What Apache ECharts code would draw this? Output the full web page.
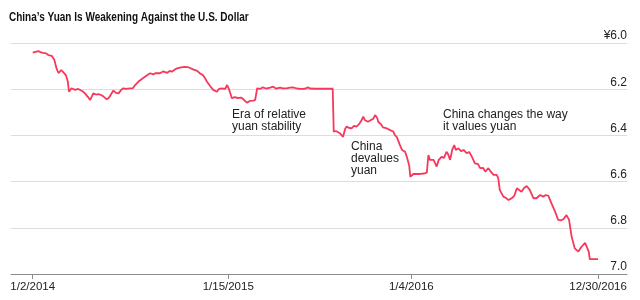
<!DOCTYPE html>
<head>
    <meta charset="utf-8">
    <title>ECharts</title>
</head>
<body style="margin:0">
    <div id="main" style="width:640px;height:300px"></div>
    <script src="https://cdn.jsdelivr.net/npm/echarts@6/dist/echarts.min.js"></script>
    <script type="text/javascript">
var myChart = echarts.init(document.getElementById('main'));

// CNY per USD
var dates = [
    '2014-01-02','2014-01-06','2014-01-13','2014-01-18','2014-01-22','2014-01-28','2014-02-01','2014-02-08',
    '2014-02-13','2014-02-17','2014-02-21','2014-02-26','2014-03-02','2014-03-07','2014-03-11','2014-03-13',
    '2014-03-18','2014-03-25','2014-03-31','2014-04-03','2014-04-09','2014-04-13','2014-04-19','2014-04-23',
    '2014-04-29','2014-05-04','2014-05-09','2014-05-14','2014-05-19','2014-05-25','2014-05-29','2014-06-01',
    '2014-06-07','2014-06-12','2014-06-17','2014-06-22','2014-06-26','2014-07-01','2014-07-09','2014-07-15',
    '2014-07-19','2014-07-25','2014-07-28','2014-08-03','2014-08-09','2014-08-17','2014-08-23','2014-08-28',
    '2014-09-05','2014-09-11','2014-09-19','2014-09-24','2014-09-28','2014-10-04','2014-10-08','2014-10-16',
    '2014-10-23','2014-10-31','2014-11-08','2014-11-16','2014-11-21','2014-11-27','2014-12-01','2014-12-05',
    '2014-12-11','2014-12-17','2014-12-20','2014-12-24','2014-12-28','2015-01-03','2015-01-09','2015-01-13',
    '2015-01-17','2015-01-22','2015-01-28','2015-02-03','2015-02-09','2015-02-15','2015-02-20','2015-02-26',
    '2015-03-04','2015-03-08','2015-03-12','2015-03-17','2015-03-23','2015-03-29','2015-04-06','2015-04-12',
    '2015-04-17','2015-04-25','2015-05-01','2015-05-09','2015-05-15','2015-05-20','2015-05-28','2015-06-03',
    '2015-06-09','2015-06-14','2015-06-18','2015-06-22','2015-07-02','2015-07-11','2015-07-21','2015-08-05',
    '2015-08-07','2015-08-11','2015-08-19','2015-08-25','2015-08-29','2015-09-01','2015-09-06','2015-09-11',
    '2015-09-15','2015-09-20','2015-09-25','2015-09-29','2015-10-03','2015-10-06','2015-10-12','2015-10-18',
    '2015-10-22','2015-10-26','2015-10-30','2015-11-01','2015-11-06','2015-11-10','2015-11-16','2015-11-24',
    '2015-11-30','2015-12-03','2015-12-07','2015-12-13','2015-12-17','2015-12-23','2015-12-27','2015-12-31',
    '2016-01-02','2016-01-08','2016-01-15','2016-01-21','2016-01-29','2016-02-03','2016-02-06','2016-02-09',
    '2016-02-16','2016-02-22','2016-02-26','2016-03-03','2016-03-07','2016-03-12','2016-03-15','2016-03-19',
    '2016-03-23','2016-03-27','2016-03-30','2016-04-04','2016-04-09','2016-04-14','2016-04-20','2016-04-25',
    '2016-04-30','2016-05-06','2016-05-12','2016-05-16','2016-05-22','2016-05-26','2016-06-01','2016-06-06',
    '2016-06-11','2016-06-17','2016-06-20','2016-06-23','2016-06-30','2016-07-05','2016-07-10','2016-07-16',
    '2016-07-21','2016-07-26','2016-07-29','2016-08-04','2016-08-09','2016-08-14','2016-08-20','2016-08-27',
    '2016-09-02','2016-09-09','2016-09-15','2016-09-20','2016-09-25','2016-10-01','2016-10-08','2016-10-14',
    '2016-10-19','2016-10-24','2016-10-30','2016-11-04','2016-11-09','2016-11-15','2016-11-22','2016-11-28',
    '2016-12-05','2016-12-09','2016-12-12','2016-12-14','2016-12-21','2016-12-24','2016-12-30'
];
var yuan = [
    6.042,6.039,6.035,6.041,6.043,6.045,6.052,6.056,
    6.074,6.110,6.131,6.117,6.126,6.139,6.168,6.211,
    6.196,6.203,6.199,6.206,6.210,6.218,6.234,6.247,
    6.218,6.223,6.221,6.225,6.232,6.244,6.238,6.232,
    6.206,6.216,6.218,6.203,6.196,6.199,6.196,6.195,
    6.182,6.168,6.160,6.153,6.143,6.131,6.136,6.130,
    6.131,6.123,6.129,6.121,6.124,6.115,6.110,6.106,
    6.103,6.106,6.114,6.121,6.131,6.139,6.152,6.168,
    6.186,6.203,6.199,6.211,6.199,6.196,6.199,6.182,
    6.203,6.239,6.234,6.239,6.236,6.247,6.258,6.251,
    6.249,6.247,6.196,6.199,6.192,6.197,6.193,6.189,
    6.197,6.193,6.196,6.195,6.193,6.192,6.197,6.199,
    6.199,6.197,6.192,6.197,6.198,6.198,6.198,6.198,
    6.384,6.381,6.391,6.406,6.372,6.362,6.368,6.369,
    6.359,6.362,6.351,6.338,6.319,6.333,6.341,6.333,
    6.329,6.312,6.325,6.341,6.351,6.365,6.368,6.377,
    6.383,6.398,6.407,6.442,6.463,6.471,6.498,6.532,
    6.579,6.567,6.567,6.567,6.565,6.561,6.485,6.506,
    6.506,6.535,6.506,6.492,6.498,6.471,6.481,6.506,
    6.463,6.442,6.463,6.456,6.468,6.463,6.477,6.472,
    6.492,6.521,6.524,6.542,6.541,6.557,6.542,6.558,
    6.571,6.571,6.584,6.636,6.665,6.671,6.680,6.672,
    6.662,6.629,6.622,6.644,6.628,6.619,6.636,6.672,
    6.672,6.658,6.665,6.658,6.662,6.694,6.730,6.766,
    6.768,6.763,6.745,6.766,6.839,6.889,6.903,6.882,
    6.865,6.887,6.903,6.936,6.936,6.942,6.936
];
var tickDates = ['2014-01-02', '2015-01-15', '2016-01-04', '2016-12-30'];

function toTime(s) {
    var p = s.split('-');
    return new Date(+p[0], +p[1] - 1, +p[2]).getTime();
}

var font = "'Liberation Sans', Arial, sans-serif";
var textColor = '#222';

option = {
    animation: false,
    backgroundColor: '#fff',
    grid: {
        left: 11,
        right: 13,
        top: 43,
        bottom: 26
    },
    xAxis: {
        type: 'value',
        min: toTime('2013-11-21'),
        max: toTime('2017-02-24'),
        axisLine: { show: true, lineStyle: { color: '#8c8c8c', width: 1 } },
        axisTick: {
            show: true,
            length: 5,
            customValues: tickDates.map(toTime),
            lineStyle: { color: '#8c8c8c' }
        },
        axisLabel: {
            customValues: tickDates.map(toTime),
            margin: 7,
            fontFamily: font,
            fontSize: 11.5,
            color: textColor,
            formatter: function (v) {
                var d = new Date(v);
                return (d.getMonth() + 1) + '/' + d.getDate() + '/' + d.getFullYear();
            }
        },
        splitLine: { show: false }
    },
    yAxis: {
        type: 'value',
        position: 'right',
        inverse: true,
        min: 6.0,
        max: 7.0,
        interval: 0.2,
        axisLine: { show: false },
        axisTick: { show: false },
        axisLabel: {
            inside: true,
            margin: 0,
            verticalAlign: 'bottom',
            padding: [0, 0, 1, 0],
            fontFamily: font,
            fontSize: 12,
            color: textColor,
            formatter: function (v) {
                return v === 6 ? '\u00a56.0' : v.toFixed(1);
            }
        },
        splitLine: { lineStyle: { color: '#dddddd', width: 1 } }
    },
    graphic: [
        {
            // condensed bold headline
            type: 'text', x: 9, y: 17, scaleX: 0.77,
            style: {
                text: 'China\u2019s Yuan Is Weakening Against the U.S. Dollar',
                font: 'bold 13px ' + font, verticalAlign: 'middle', fill: '#111'
            }
        },
        {
            type: 'text', left: 232, top: 109,
            style: { text: 'Era of relative\nyuan stability', font: '12px ' + font, lineHeight: 12, fill: textColor }
        },
        {
            type: 'text', left: 351, top: 141,
            style: { text: 'China\ndevalues\nyuan', font: '12px ' + font, lineHeight: 11.7, fill: textColor }
        },
        {
            type: 'text', left: 443, top: 109,
            style: { text: 'China changes the way\nit values yuan', font: '12px ' + font, lineHeight: 12, fill: textColor }
        }
    ],
    series: [
        {
            type: 'line',
            data: dates.map(function (d, i) { return [toTime(d), yuan[i]]; }),
            showSymbol: false,
            lineStyle: { color: '#f5385b', width: 1.8 },
            z: 5
        }
    ]
};
myChart.setOption(option);
    </script>
</body>
